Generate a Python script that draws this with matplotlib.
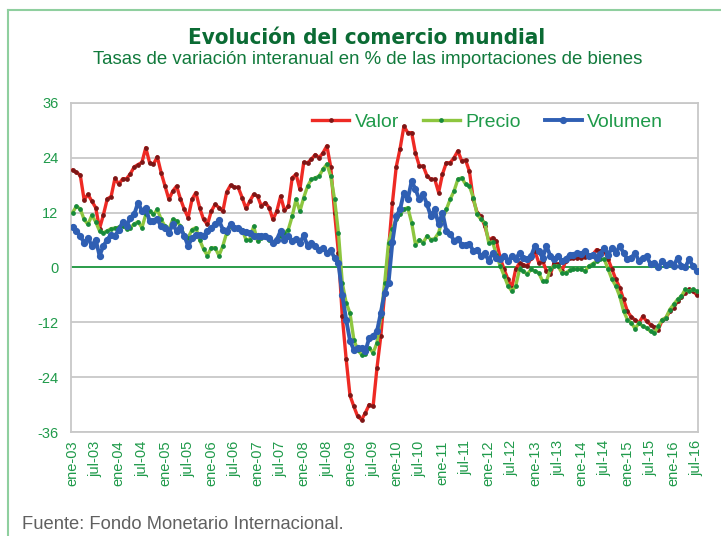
import matplotlib
matplotlib.use('Agg')
import matplotlib.pyplot as plt
from matplotlib.lines import Line2D
from matplotlib import font_manager as fm

# tasas de variacion interanual (%), mensual ene-03 .. jul-16
valor = [21.3, 20.8, 20.2, 14.8, 16.0, 14.5, 13.1, 8.5, 11.5, 15.0,
         15.5, 19.5, 18.2, 19.4, 19.4, 20.5, 22.0, 22.5, 23.0, 26.2,
         22.9, 22.6, 24.2, 20.7, 17.8, 14.9, 16.7, 17.8, 15.0, 12.7,
         10.9, 14.9, 16.4, 13.0, 10.5, 9.4, 12.3, 13.8, 13.1, 12.3,
         16.5, 18.0, 17.6, 17.5, 15.3, 12.9, 14.5, 16.0, 15.6, 13.4,
         14.2, 13.1, 10.5, 12.3, 15.6, 12.5, 13.4, 19.6, 20.4, 17.1,
         23.0, 22.9, 23.7, 24.7, 24.0, 25.1, 26.6, 22.0, 12.0, 3.2,
         -10.7, -20.0, -28.0, -30.4, -32.6, -33.3, -31.8, -30.0, -30.4, -22.0,
         -15.0, -5.5, 3.9, 14.0, 22.0, 26.0, 30.9, 29.5, 29.5, 25.0,
         22.2, 22.2, 20.0, 19.3, 19.3, 16.4, 20.4, 22.9, 22.9, 24.0,
         25.5, 23.3, 23.5, 21.0, 14.9, 12.0, 11.2, 9.0, 6.0, 6.5,
         5.8, 2.0, -0.4, -2.6, -4.4, -0.4, 1.0, 0.6, 0.3, 2.1,
         3.6, 1.0, 1.4, -0.8, -1.5, 1.0, 0.7, -0.8, 1.4, 2.1,
         2.1, 2.1, 2.1, 2.3, 2.5, 2.8, 3.9, 3.6, 3.6, 1.8,
         -0.4, -2.6, -4.4, -7.0, -9.6, -10.8, -11.5, -12.1, -10.7, -11.8,
         -12.5, -13.0, -13.6, -11.6, -11.0, -9.6, -8.8, -7.4, -6.5, -5.5,
         -4.8, -5.2, -6.0]

precio = [12.0, 13.4, 12.8, 10.5, 9.4, 11.4, 10.0, 8.0, 7.6, 8.0,
          8.5, 8.6, 8.8, 9.0, 8.5, 8.7, 9.5, 10.0, 8.7, 11.6,
          12.3, 11.6, 12.7, 10.5, 9.0, 8.3, 10.5, 10.2, 9.0, 7.0,
          6.5, 8.3, 8.7, 6.0, 4.0, 2.6, 4.3, 4.3, 2.6, 4.7,
          7.6, 9.0, 8.8, 8.5, 8.3, 6.1, 6.1, 9.0, 5.8, 6.5,
          7.0, 6.1, 5.4, 6.1, 6.9, 7.5, 8.3, 11.2, 14.9, 12.3,
          15.3, 17.8, 19.3, 19.6, 20.0, 21.5, 22.6, 20.0, 14.9, 7.6,
          -3.4, -7.7, -10.0, -15.8, -18.0, -19.1, -18.9, -17.6, -18.7, -16.5,
          -10.7, -3.4, 5.4, 8.5, 10.5, 11.6, 12.7, 13.1, 9.8, 5.0,
          6.1, 5.4, 6.9, 6.1, 6.3, 7.6, 10.5, 12.7, 14.9, 16.7,
          19.3, 19.6, 18.2, 17.8, 15.3, 11.6, 10.5, 9.8, 5.4, 5.6,
          2.8, 0.3, -1.8, -4.0, -5.2, -4.1, -0.4, -0.8, -1.5, -0.4,
          -0.8, -1.2, -3.0, -3.0, -0.4, 0.3, 0.3, -1.2, -1.2, -0.6,
          -0.4, -0.4, -0.4, -0.8, 0.3, 0.8, 1.4, 1.8, 1.8, -0.4,
          -2.6, -4.1, -6.3, -9.5, -11.4, -12.1, -13.4, -12.1, -12.9, -13.2,
          -14.0, -14.3, -12.9, -11.4, -11.0, -9.2, -8.1, -7.0, -6.3, -4.8,
          -5.2, -4.8, -5.2]

volumen = [8.9, 8.0, 6.9, 5.4, 6.5, 4.7, 6.1, 2.6, 4.7, 6.1,
           7.2, 6.9, 8.3, 9.9, 9.0, 10.9, 11.6, 14.2, 12.3, 13.1,
           10.1, 10.1, 10.5, 9.0, 8.7, 7.6, 9.4, 8.0, 8.7, 6.9,
           4.7, 6.5, 7.0, 7.2, 6.9, 8.0, 8.7, 9.4, 10.3, 8.3,
           8.0, 9.4, 8.7, 8.7, 8.0, 7.8, 7.6, 6.9, 6.9, 6.9,
           6.9, 6.5, 5.4, 6.1, 8.0, 6.1, 6.9, 5.8, 6.3, 5.4,
           7.0, 4.7, 5.4, 4.7, 3.9, 4.3, 3.2, 3.9, 2.0, 1.0,
           -6.0, -11.4, -16.0, -18.0, -17.6, -17.6, -18.3, -15.4, -15.0, -14.0,
           -9.9, -5.5, -3.4, 5.5, 11.2, 12.7, 16.4, 14.9, 18.9, 17.1,
           14.9, 16.0, 13.8, 11.2, 12.7, 9.4, 12.0, 8.0, 7.4, 5.8,
           6.3, 5.0, 5.0, 5.2, 3.6, 3.9, 2.5, 3.2, 1.4, 3.2,
           2.0, 1.8, 2.5, 1.4, 2.5, 1.8, 3.2, 2.1, 1.8, 2.5,
           4.7, 3.6, 2.1, 4.7, 2.5, 1.8, 2.5, 1.4, 1.8, 2.8,
           2.8, 3.2, 3.0, 3.6, 2.5, 2.8, 2.1, 3.0, 4.3, 2.8,
           4.3, 3.2, 4.7, 3.2, 1.8, 2.1, 3.2, 1.4, 2.1, 2.5,
           0.7, 1.0, 0.0, 1.4, 0.5, 1.0, 0.3, 2.1, 0.3, 0.0,
           1.8, 0.3, -0.8]

tick_labels = ['ene-03', 'jul-03', 'ene-04', 'jul-04', 'ene-05', 'jul-05',
               'ene-06', 'jul-06', 'ene-07', 'jul-07', 'ene-08', 'jul-08',
               'ene-09', 'jul-09', 'ene-10', 'jul-10', 'ene-11', 'jul-11',
               'ene-12', 'jul-12', 'ene-13', 'jul-13', 'ene-14', 'jul-14',
               'ene-15', 'jul-15', 'ene-16', 'jul-16']
y_ticks = [-36, -24, -12, 0, 12, 24, 36]


def condensed_bold():
    # busca una fuente estrecha y negrita para el titulo
    for f in fm.fontManager.ttflist:
        w = f.weight
        if isinstance(w, str):
            w = 700 if 'bold' in w.lower() else 400
        narrow = ('condensed' in str(f.stretch).lower() or 'Narrow' in f.name
                  or 'Condensed' in f.name or 'Condensed' in f.fname)
        if narrow and w >= 600 and f.style == 'normal':
            return f.fname
    return None


plt.rcParams['font.family'] = ['Liberation Sans', 'DejaVu Sans']

GREEN_TXT = '#1f9a4a'
fig = plt.figure(figsize=(7.21, 5.36), dpi=100)
ax = fig.add_axes([0.0985, 0.194, 0.8695, 0.614])

x = list(range(len(valor)))
ax.plot(x, valor, color='#ee2a24', lw=2.4, marker='o', ms=2.4,
        mfc='#7d1616', mec='#7d1616', label='Valor', zorder=3)
ax.plot(x, precio, color='#8dc63f', lw=2.4, marker='o', ms=2.4,
        mfc='#178a3a', mec='#178a3a', label='Precio', zorder=4)
ax.plot(x, volumen, color='#2f5fb3', lw=2.8, marker='o', ms=4.2,
        mfc='#2f5fb3', mec='#2f5fb3', label='Volumen', zorder=5)

ax.axhline(0, color='#1e9a40', lw=1.3, zorder=2)
ax.set_ylim(-36, 36)
ax.set_yticks(y_ticks)
ax.set_yticklabels([str(v) for v in y_ticks])
ax.grid(axis='y', color='#c8c8c8', lw=1.3, zorder=1)
ax.set_xlim(-0.4, 162.3)
ax.set_xticks(range(0, len(valor), 6))
ax.set_xticklabels(tick_labels, rotation=90, va='top', ha='center')
ax.tick_params(axis='both', length=0, labelsize=10.5, colors=GREEN_TXT)
ax.tick_params(axis='y', pad=9)
ax.tick_params(axis='x', pad=6)
for s in ax.spines.values():
    s.set_color('#c8c8c8')
    s.set_linewidth(1.3)

leg = ax.legend(ncol=3, loc='center', bbox_to_anchor=(0.665, 0.942),
                frameon=False, fontsize=14, handlelength=1.9,
                handletextpad=0.3, columnspacing=1.2, numpoints=1)
for t in leg.get_texts():
    t.set_color(GREEN_TXT)

fname = condensed_bold()
if fname:
    title_font = fm.FontProperties(fname=fname, size=16)
else:
    title_font = fm.FontProperties(family='Liberation Sans', weight='bold', size=15)
fig.text(0.509, 0.929, 'Evolución del comercio mundial', ha='center', va='center',
         fontproperties=title_font, color='#0b6b34')
fig.text(0.51, 0.889, 'Tasas de variación interanual en % de las importaciones de bienes',
         ha='center', va='center', fontsize=13.4, color='#117a3c')
fig.text(0.0305, 0.022, 'Fuente: Fondo Monetario Internacional.', ha='left', va='center',
         fontsize=13.2, color='#606060')

# marco verde del recuadro
fig.add_artist(Line2D([0.011, 0.011], [0.0, 0.981], color='#8fcf9f', lw=1.5))
fig.add_artist(Line2D([0.011, 1.0], [0.981, 0.981], color='#8fcf9f', lw=1.5))

fig.savefig('out.png', dpi=100)
